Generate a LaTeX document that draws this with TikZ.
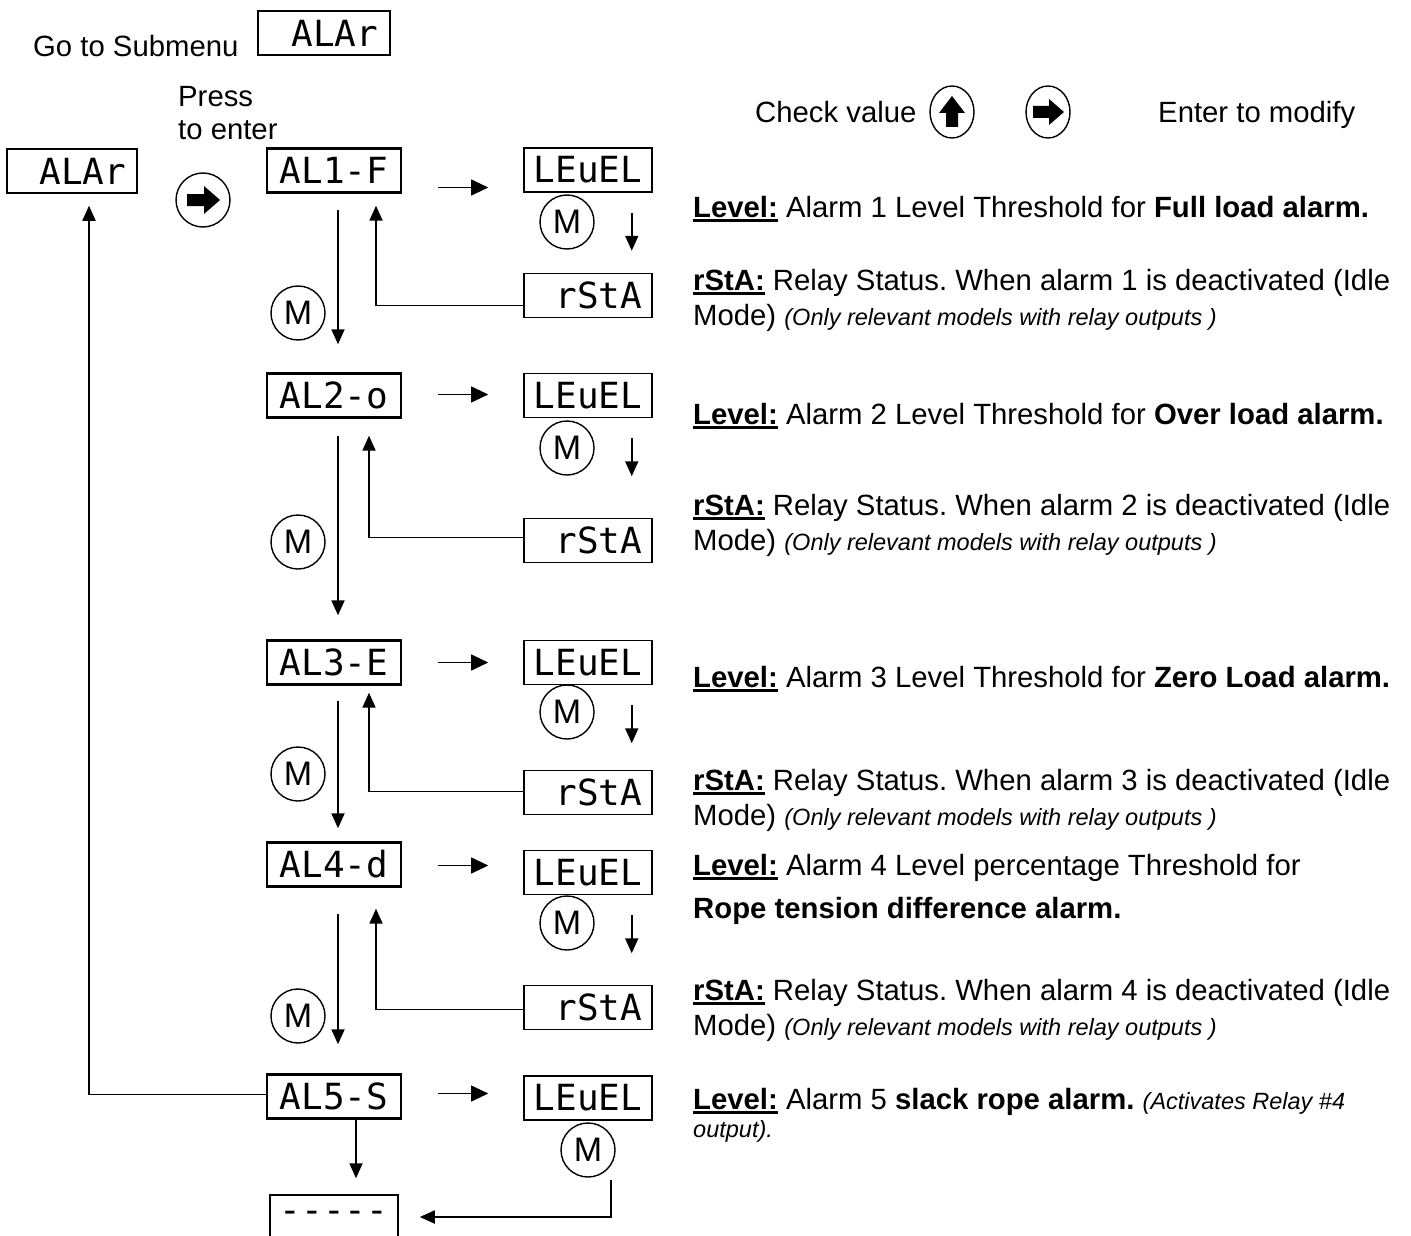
\documentclass[tikz,border=0pt]{standalone}
\usepackage{fontspec}
\setmainfont{Liberation Sans}
\newfontfamily\segfont{DejaVu Sans Mono}
\usetikzlibrary{arrows.meta,calc,shapes.geometric}
\frenchspacing

\newcommand{\ulhead}[1]{\setbox0\hbox{\bfseries #1}\rlap{\rule[-4.5pt]{\wd0}{3pt}}\box0\relax}
\newcommand{\smallit}{\fontsize{23.5}{27}\selectfont\itshape}

\begin{document}
\begin{tikzpicture}[x=1pt, y=-1pt,
    disp/.style={draw, line width=1.5pt, minimum width=128pt, minimum height=44pt, inner sep=0pt, font=\segfont\fontsize{36}{36}\selectfont},
    aldisp/.style={disp, line width=2.4pt, minimum width=134pt},
    mkey/.style={circle, draw, line width=1.4pt, minimum size=54pt, inner sep=0pt, font=\fontsize{34}{34}\selectfont},
    lbl/.style={inner sep=0pt, font=\fontsize{29.3}{35}\selectfont},
    note/.style={lbl, align=left, anchor=north west},
    link/.style={line width=1.8pt, -{Triangle[length=15pt,width=13pt]}},
    nextarr/.style={line width=1pt, -{Triangle[length=17pt,width=16pt]}}
]
    \useasboundingbox (0,0) rectangle (1411,1236);

    % Heading
    \node[lbl, anchor=base west] (gotxt) at (33,57) {Go to Submenu};
    \node[disp, minimum width=132pt] (alarTop) at (324,33) {\phantom{A}ALAr};
    \node[note, font=\fontsize{29.3}{33}\selectfont] (press) at (178,86) {Press\\to enter};
    \node[disp, minimum width=130pt] (alarLeft) at (72,171) {\phantom{A}ALAr};
    \node[mkey] (enter) at (203,200) {};
    \fill[shift={(enter.center)}] (-16,-6) -- (1,-6) -- (1,-14) -- (17,0) -- (1,14) -- (1,6) -- (-16,6) -- cycle;

    \node[lbl, anchor=base west] (chk) at (755,123) {Check value};
    \node[ellipse, draw, line width=1.4pt, minimum width=44pt, minimum height=52pt] (keyup) at (952,112) {};
    \fill[shift={(keyup.center)}] (-6,15) -- (-6,1) -- (-13,1) -- (0,-16) -- (13,1) -- (6,1) -- (6,15) -- cycle;
    \node[ellipse, draw, line width=1.4pt, minimum width=44pt, minimum height=52pt] (keyright) at (1048,112) {};
    \fill[shift={(keyright.center)}] (-15,-6) -- (1,-6) -- (1,-13) -- (16,0) -- (1,13) -- (1,6) -- (-15,6) -- cycle;
    \node[lbl, anchor=base west] (modify) at (1158,123) {Enter to modify};

    % Displays
    \foreach \i/\y/\t in {1/170.5/AL1-F, 2/395.5/AL2-o, 3/662.5/AL3-E, 4/864.5/AL4-d, 5/1096.5/AL5-S}
        \node[aldisp] (al\i) at (334,\y) {\t};
    \foreach \i/\y in {1/170, 2/395.5, 3/662.5, 4/872.5, 5/1098}
        \node[disp] (lev\i) at (588,\y) {LEuEL};
    \foreach \i/\y in {1/295.5, 2/540.5, 3/792.5, 4/1007.5}
        \node[disp] (rsta\i) at (588,\y) {\phantom{A}rStA};
    \node[disp] (dash) at (334,1217) {-{}-{}-{}-{}-};

    % M keys
    \foreach \i/\y in {1/313, 2/542, 3/774, 4/1016}
        \node[mkey] (mL\i) at (298,\y) {M};
    \foreach \i/\y in {1/222, 2/448, 3/712, 4/923}
        \node[mkey] (mR\i) at (567,\y) {M};
    \node[mkey] (mR5) at (588,1150) {M};

    % Arrows
    \draw[link] ($(al1.south)+(4,16)$) -- ($(al2.north)+(4,-28)$);
    \draw[link] ($(al2.south)+(4,17)$) -- ($(al3.north)+(4,-24)$);
    \draw[link] ($(al3.south)+(4,15)$) -- ($(al4.north)+(4,-13)$);
    \draw[link] ($(al4.south)+(4,26)$) -- ($(al5.north)+(4,-29)$);
    \draw[link] ($(al5.south)+(22,0)$) -- ($(dash.north)+(22,-16)$);

    \draw[link] ($(rsta1.west)+(0,10)$) -| ($(al1.south)+(42,12)$);
    \draw[link] ($(rsta2.west)+(0,-3)$) -| ($(al2.south)+(35,17)$);
    \draw[link] ($(rsta3.west)+(0,-1)$) -| ($(al3.south)+(35,7)$);
    \draw[link] ($(rsta4.west)+(0,2)$) -| ($(al4.south)+(42,21)$);

    \draw[link] ($(al5.west)+(0,-2)$) -| ($(alarLeft.south)+(17,12)$);
    \draw[link] ($(mR5.south)+(23,2)$) |- ($(dash.east)+(21,0)$);

    \foreach \i/\dy in {1/17, 2/-1, 3/0, 4/1, 5/-3}
        \draw[nextarr] ($(al\i.east)+(36,\dy)$) -- ++(50,0);
    \foreach \i in {1,...,4}
        \draw[link] ($(lev\i.south east)+(-21,20)$) -- ++(0,38);

    % Descriptions
    \node[lbl, anchor=base west] (tlev1) at (693,217) {\ulhead{Level:} Alarm 1 Level Threshold for \textbf{Full load alarm.}};
    \node[lbl, anchor=base west] (tlev2) at (693,424) {\ulhead{Level:} Alarm 2 Level Threshold for \textbf{Over load alarm.}};
    \node[lbl, anchor=base west] (tlev3) at (693,687) {\ulhead{Level:} Alarm 3 Level Threshold for \textbf{Zero Load alarm.}};
    \node[note, font=\fontsize{29.3}{43}\selectfont] (tlev4) at (693,854) {\ulhead{Level:} Alarm 4 Level percentage Threshold for\\\textbf{Rope tension difference alarm.}};
    \node[note] (tlev5) at (693,1088) {\ulhead{Level:} Alarm 5 \textbf{slack rope alarm.} {\smallit (Activates Relay \#4}\\[-7pt]{\smallit output).}};
    \foreach \i/\y in {1/269, 2/494, 3/769, 4/979}
        \node[note] (trst\i) at (693,\y) {\ulhead{rStA:} Relay Status. When alarm \i\ is deactivated (Idle\\Mode) {\smallit (Only relevant models with relay outputs )}};
\end{tikzpicture}
\end{document}
